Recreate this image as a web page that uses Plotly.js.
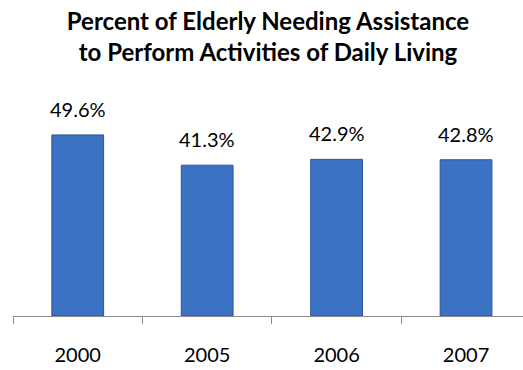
<!DOCTYPE html>
<html>
<head>
<meta charset="utf-8">
<script src="https://cdn.plot.ly/plotly-3.0.1.min.js"></script>
<style>html,body{margin:0;padding:0;background:#fff;}#chart{width:523px;height:370px;}</style>
</head>
<body>
<div id="chart"></div>
<script>
var years = ['2000', '2005', '2006', '2007'];
var percents = [49.6, 41.3, 42.9, 42.8];
var chartTitle = 'Percent of Elderly Needing Assistance<br>to Perform Activities of Daily Living';

var trace = {
  type: 'bar',
  x: years,
  y: percents,
  width: 0.4,
  marker: {color: '#3B72C3', line: {color: '#2A5699', width: 1}},
  hoverinfo: 'skip'
};

// category axis: annotations use the category index so "2000" is not read as a serial number
var annotations = years.map(function (yr, i) {
  return {
    x: i, y: percents[i], xref: 'x', yref: 'y',
    text: percents[i].toFixed(1) + '%',
    showarrow: false, yanchor: 'bottom', yshift: 12,
    font: {family: 'Lato, sans-serif', size: 20, color: '#000'}
  };
});

var layout = {
  width: 523, height: 370,
  margin: {l: 13, r: 0, t: 90, b: 54},
  paper_bgcolor: '#fff', plot_bgcolor: '#fff',
  showlegend: false,
  title: {
    text: chartTitle,
    x: 0.5, xref: 'paper', xanchor: 'center',
    y: 0.92, yref: 'container', yanchor: 'top',
    font: {family: 'Lato, sans-serif', size: 24, color: '#000', weight: 'bold'}
  },
  xaxis: {
    type: 'category',
    range: [-0.5, 3.44],
    showline: true, linecolor: '#8C8C8C', linewidth: 1,
    ticks: 'outside', tickson: 'boundaries', ticklen: 7, tickcolor: '#8C8C8C',
    ticklabelstandoff: 21,
    tickfont: {family: 'Lato, sans-serif', size: 20, color: '#000'},
    showgrid: false, zeroline: false, fixedrange: true
  },
  yaxis: {
    range: [0, 61.9],
    showticklabels: false, showline: false, ticks: '',
    showgrid: false, zeroline: false, fixedrange: true
  },
  annotations: annotations
};

Plotly.newPlot('chart', [trace], layout, {displayModeBar: false, staticPlot: true});
</script>
</body>
</html>
